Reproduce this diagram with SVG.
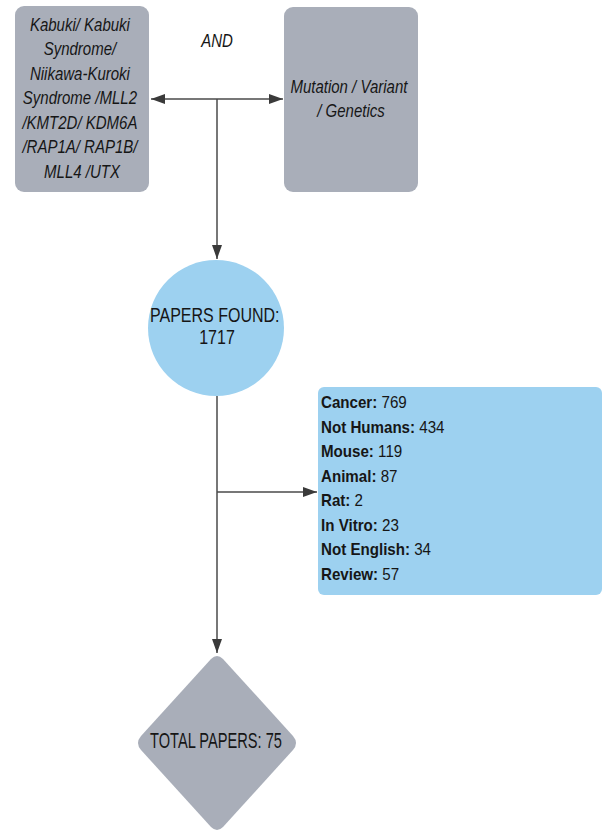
<svg xmlns="http://www.w3.org/2000/svg" width="603" height="834" viewBox="0 0 603 834">
  <style>
    .gray { fill: #a9aeb9; }
    .blue { fill: #9dd1f0; }
    .t { font-family: "Liberation Sans", Arial, sans-serif; fill: #161616; }
    .it { font-style: italic; font-size: 19px; }
    .mid { text-anchor: middle; }
    .list { font-size: 17px; }
    .list tspan.b { font-weight: bold; }
    .edge { stroke: #4a4a4a; stroke-width: 1.5; fill: none; }
  </style>
  <defs>
    <marker id="arrow" viewBox="0 0 14 10" refX="14" refY="5" markerWidth="14" markerHeight="10" markerUnits="userSpaceOnUse" orient="auto-start-reverse">
      <path d="M0,0 L14,5 L0,10 Z" fill="#3a3a3a"/>
    </marker>
  </defs>

  <rect width="603" height="834" fill="#ffffff"/>

  <!-- connectors -->
  <g id="connectors">
    <line class="edge" x1="151" y1="99" x2="283" y2="99" marker-start="url(#arrow)" marker-end="url(#arrow)"/>
    <line class="edge" x1="217" y1="99" x2="217" y2="259" marker-end="url(#arrow)"/>
    <line class="edge" x1="217" y1="396" x2="217" y2="653" marker-end="url(#arrow)"/>
    <line class="edge" x1="217" y1="492" x2="317" y2="492" marker-end="url(#arrow)"/>
  </g>

  <!-- search terms, left -->
  <g id="terms-left">
    <rect class="gray" x="15" y="6" width="134" height="186" rx="9"/>
    <g transform="translate(82 0) scale(0.79 1)">
      <text class="t it mid">
        <tspan x="0" y="31">Kabuki/ Kabuki</tspan>
        <tspan x="0" y="55.5">Syndrome/</tspan>
        <tspan x="0" y="80">Niikawa-Kuroki</tspan>
        <tspan x="0" y="104.5">Syndrome /MLL2</tspan>
        <tspan x="0" y="129">/KMT2D/ KDM6A</tspan>
        <tspan x="0" y="153.5">/RAP1A/ RAP1B/</tspan>
        <tspan x="0" y="178">MLL4 /UTX</tspan>
      </text>
    </g>
  </g>

  <!-- operator -->
  <g id="and-label" transform="translate(217 0) scale(0.79 1)">
    <text class="t it mid" x="0" y="47">AND</text>
  </g>

  <!-- search terms, right -->
  <g id="terms-right">
    <rect class="gray" x="284" y="7" width="134" height="185" rx="9"/>
    <g transform="translate(351 0) scale(0.79 1)">
      <text class="t it mid">
        <tspan x="0" y="93">Mutation / Variant</tspan>
        <tspan x="0" y="117">/ Genetics</tspan>
      </text>
    </g>
  </g>

  <!-- papers found -->
  <g id="papers-found">
    <circle class="blue" cx="216" cy="328" r="68"/>
    <g transform="translate(217 0) scale(0.8 1)">
      <text class="t mid" font-size="20px">
        <tspan x="0" y="322">PAPERS FOUND:</tspan>
        <tspan x="0" y="344">1717</tspan>
      </text>
    </g>
  </g>

  <!-- exclusions -->
  <g id="excluded">
    <rect class="blue" x="318" y="387" width="284" height="208" rx="6"/>
    <g transform="translate(321 0) scale(0.89 1)">
      <text class="t list">
        <tspan x="0" y="408.5"><tspan class="b">Cancer:</tspan> 769</tspan>
        <tspan x="0" y="433"><tspan class="b">Not Humans:</tspan> 434</tspan>
        <tspan x="0" y="457.5"><tspan class="b">Mouse:</tspan> 119</tspan>
        <tspan x="0" y="482"><tspan class="b">Animal:</tspan> 87</tspan>
        <tspan x="0" y="506.5"><tspan class="b">Rat:</tspan> 2</tspan>
        <tspan x="0" y="531"><tspan class="b">In Vitro:</tspan> 23</tspan>
        <tspan x="0" y="555.5"><tspan class="b">Not English:</tspan> 34</tspan>
        <tspan x="0" y="580"><tspan class="b">Review:</tspan> 57</tspan>
      </text>
    </g>
  </g>

  <!-- total -->
  <g id="total-papers">
    <path class="gray" d="M211,659 Q217,653 223,659 L293,736 Q299,743 293,750 L223,827 Q217,833 211,827 L141,750 Q135,743 141,736 Z"/>
    <g transform="translate(216 0) scale(0.68 1)">
      <text class="t mid" font-size="21.5px" x="0" y="748">TOTAL PAPERS: 75</text>
    </g>
  </g>
</svg>
